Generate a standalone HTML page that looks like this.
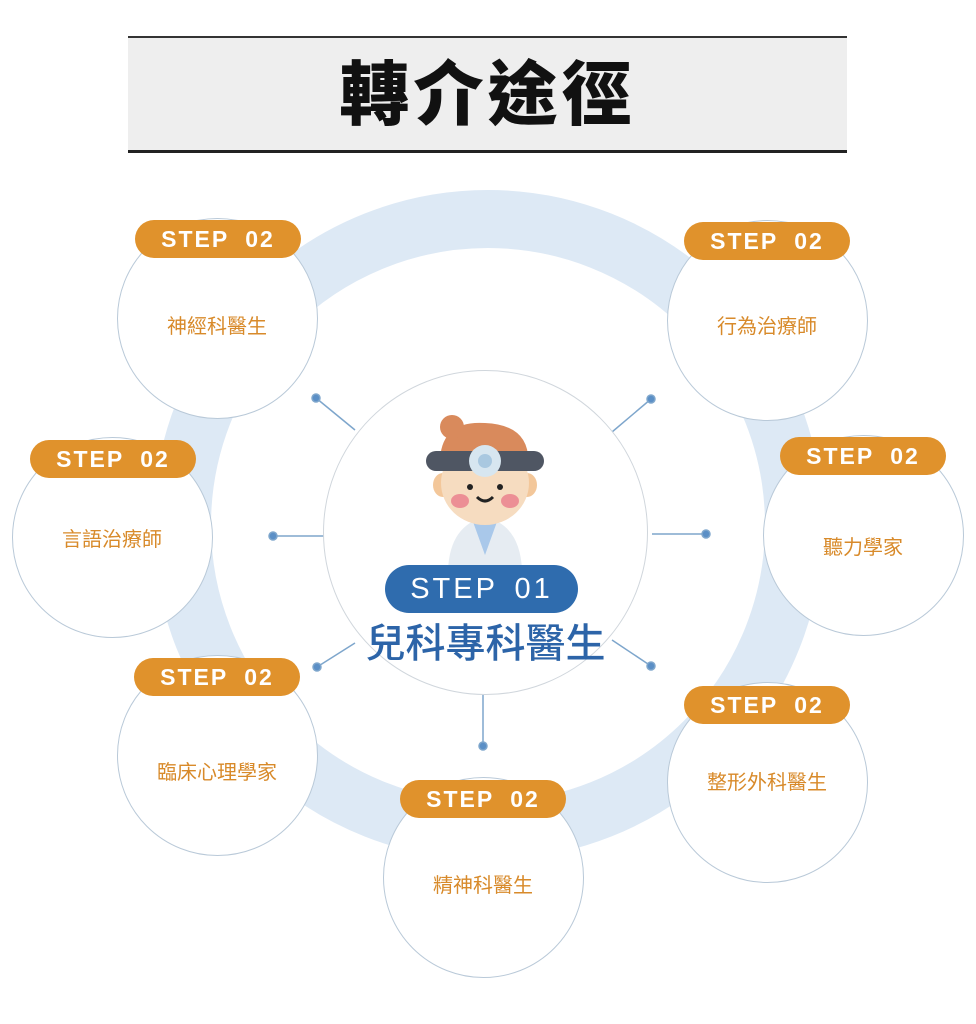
<!DOCTYPE html>
<html><head><meta charset="utf-8"><style>
body{margin:0;width:976px;height:1024px;background:#fff;overflow:hidden;font-family:"Liberation Sans","Noto Sans CJK TC",sans-serif}
.abs{position:absolute}
.c{position:absolute;border-radius:50%;background:#fff;border:1.5px solid #b9c9d8;box-sizing:border-box}
.b{position:absolute;width:166px;height:38px;border-radius:19px;background:#e0922c;color:#fff;font-weight:bold;font-size:23px;letter-spacing:2px;word-spacing:8px;text-align:center;line-height:38px;font-family:"Liberation Sans",sans-serif}
.t{position:absolute;color:#d88a2a;font-size:20px;text-align:center;width:200px;font-family:"Noto Sans CJK TC",sans-serif}
</style></head><body>
<div class="abs" style="left:128px;top:36px;width:719px;height:112px;background:#eeeeee;border-top:2px solid #333;border-bottom:3px solid #222"></div>
<div class="abs" style="left:128px;top:40px;width:719px;text-align:center;font-size:70px;font-weight:900;color:#111;font-family:'Noto Sans CJK TC',sans-serif;letter-spacing:4px;line-height:100px">轉介途徑</div>
<div class="abs" style="left:153px;top:190px;width:670px;height:670px;border-radius:50%;border:58px solid #dde9f5;box-sizing:border-box"></div>
<svg class="abs" style="left:0;top:0" width="976" height="1024">
<g stroke="#7ea6cc" stroke-width="1.5" fill="#5b8fc6">
<line x1="316" y1="398" x2="355" y2="430"/><circle cx="316" cy="398" r="4"/>
<line x1="651" y1="399" x2="612" y2="432"/><circle cx="651" cy="399" r="4"/>
<line x1="273" y1="536" x2="325" y2="536"/><circle cx="273" cy="536" r="4"/>
<line x1="706" y1="534" x2="652" y2="534"/><circle cx="706" cy="534" r="4"/>
<line x1="317" y1="667" x2="355" y2="643"/><circle cx="317" cy="667" r="4"/>
<line x1="651" y1="666" x2="612" y2="640"/><circle cx="651" cy="666" r="4"/>
<line x1="483" y1="746" x2="483" y2="695"/><circle cx="483" cy="746" r="4"/>
</g></svg>
<div class="c" style="left:323px;top:370px;width:325px;height:325px;border-color:#d0d6dc"></div>
<svg class="abs" style="left:400px;top:405px" width="170" height="170">
<path d="M48 165 Q50 120 85 112 Q120 120 122 165Z" fill="#e6ecf2"/>
<path d="M72 114 L85 150 L98 114Z" fill="#a9c8ea"/>
<ellipse cx="43" cy="80" rx="10" ry="12" fill="#f3c79a"/><ellipse cx="127" cy="80" rx="10" ry="12" fill="#f3c79a"/>
<ellipse cx="85" cy="78" rx="44" ry="42" fill="#f6dcc0"/>
<path d="M40 62 Q38 15 85 18 Q132 20 128 62 Z" fill="#d98a5c"/>
<circle cx="52" cy="22" r="12" fill="#d98a5c"/>
<rect x="26" y="46" width="118" height="20" rx="10" fill="#4f5663"/>
<circle cx="85" cy="56" r="16" fill="#d7e6f0"/><circle cx="85" cy="56" r="7" fill="#a9c8e0"/>
<circle cx="70" cy="82" r="3" fill="#222"/><circle cx="100" cy="82" r="3" fill="#222"/>
<path d="M77 92 Q85 100 93 92" stroke="#222" stroke-width="3" fill="none"/>
<ellipse cx="60" cy="96" rx="9" ry="7" fill="#ec8f95"/><ellipse cx="110" cy="96" rx="9" ry="7" fill="#ec8f95"/>
</svg>
<div class="abs" style="left:385px;top:565px;width:193px;height:48px;border-radius:24px;background:#2f6cae;color:#fff;font-size:29px;letter-spacing:3px;word-spacing:6px;text-align:center;line-height:48px">STEP 01</div>
<div class="abs" style="left:323px;top:612px;width:325px;text-align:center;color:#2c64a8;font-size:40px;font-weight:500;font-family:'Noto Sans CJK TC',sans-serif;line-height:56px">兒科專科醫生</div>

<div class="c" style="left:117px;top:218px;width:201px;height:201px"></div><div class="b" style="left:135px;top:220px">STEP 02</div><div class="t" style="left:117px;top:310px">神經科醫生</div>
<div class="c" style="left:667px;top:220px;width:201px;height:201px"></div><div class="b" style="left:684px;top:222px">STEP 02</div><div class="t" style="left:667px;top:310px">行為治療師</div>
<div class="c" style="left:12px;top:437px;width:201px;height:201px"></div><div class="b" style="left:30px;top:440px">STEP 02</div><div class="t" style="left:12px;top:523px">言語治療師</div>
<div class="c" style="left:763px;top:435px;width:201px;height:201px"></div><div class="b" style="left:780px;top:437px">STEP 02</div><div class="t" style="left:763px;top:531px">聽力學家</div>
<div class="c" style="left:117px;top:655px;width:201px;height:201px"></div><div class="b" style="left:134px;top:658px">STEP 02</div><div class="t" style="left:117px;top:756px">臨床心理學家</div>
<div class="c" style="left:667px;top:682px;width:201px;height:201px"></div><div class="b" style="left:684px;top:686px">STEP 02</div><div class="t" style="left:667px;top:766px">整形外科醫生</div>
<div class="c" style="left:383px;top:777px;width:201px;height:201px"></div><div class="b" style="left:400px;top:780px">STEP 02</div><div class="t" style="left:383px;top:869px">精神科醫生</div>
</body></html>
